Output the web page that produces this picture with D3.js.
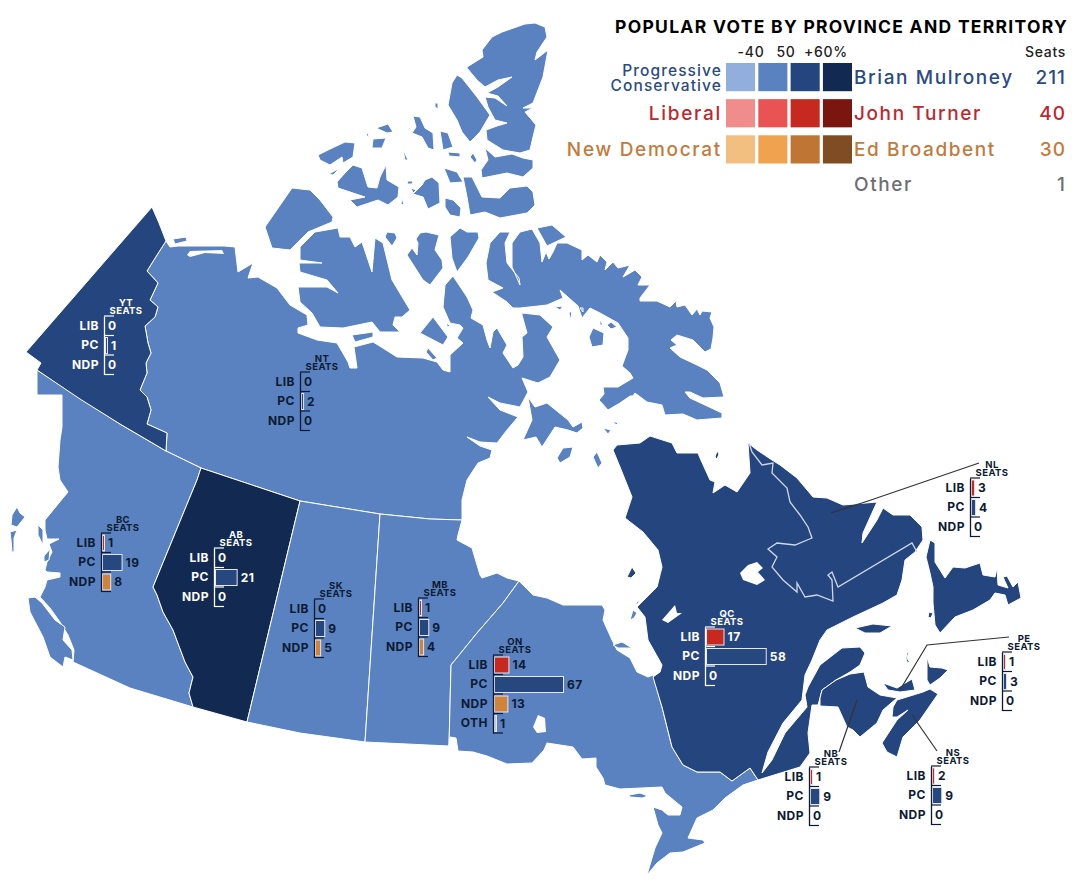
<!DOCTYPE html>
<html>
<head>
<meta charset="utf-8">
<script src="https://cdn.jsdelivr.net/npm/d3@7"></script>
<style>
html, body { margin: 0; padding: 0; background: #fff; }
svg { display: block; font-family: Inter, "Open Sans", sans-serif; }
</style>
</head>
<body>
<svg id="map" width="1080" height="896"></svg>
<script>
// seats
var provinces = ['YT', 'NT', 'BC', 'AB', 'SK', 'MB', 'ON', 'QC', 'NL', 'PE', 'NB', 'NS'];
var libSeats = [0, 0, 1, 0, 0, 1, 14, 17, 3, 1, 1, 2];
var pcSeats = [1, 2, 19, 21, 9, 9, 67, 58, 4, 3, 9, 9];
var ndpSeats = [0, 0, 8, 0, 5, 4, 13, 0, 0, 0, 0, 0];
var othSeats = [null, null, null, null, null, null, 1, null, null, null, null, null];

// vote share band of the winning party, 0..3 = -40, 50, +60 columns of the legend
var shareBand = { YT: 2, NT: 1, BC: 1, AB: 3, SK: 1, MB: 1, ON: 1, QC: 2, NL: 2, PE: 2, NB: 2, NS: 2 };

// legend
var parties = ['Progressive Conservative', 'Liberal', 'New Democrat'];
var leaders = ['Brian Mulroney', 'John Turner', 'Ed Broadbent', 'Other'];
var partySeats = [211, 40, 30, 1];
var bandLabels = ['-40', '50', '+60%'];
var pcShades = ['#92aedd', '#5a82c0', '#25457f', '#122a52'];
var libShades = ['#f18c8c', '#ea5353', '#c5291f', '#7a1510'];
var ndpShades = ['#f3bf80', '#f0a24e', '#bf7534', '#7f4c23'];
var textCols = ['#2a4a85', '#c1272d', '#c47a3a', '#6d6e71'];

// inset positions: left axis x and top y
var insetX = { YT: 104, NT: 300, BC: 101, AB: 214, SK: 314, MB: 418, ON: 493, QC: 705, NL: 970, PE: 1002, NB: 809, NS: 931 };
var insetY = { YT: 316, NT: 372, BC: 533, AB: 548, SK: 599, MB: 598, ON: 655, QC: 627, NL: 478, PE: 652, NB: 767, NS: 766 };
var lightText = ['YT', 'AB', 'QC'];

// outlines
var shapeYT = ['152,207 159,223 166,241 157,255 147,271 158,283 150,300 158,307 155,317 145,326 148,343 151,353 146,363 147,373 140,390 147,397 151,410 147,424 167,433 166,451 120,424 80,399 37,370 41,363 26,352'];
var shapeNT = [
  '166,241 170,247 178,246 200,246 224,246 235,247 238,272 253,263 248,278 258,277 277,288 290,305 307,315 308,325 298,328 298,333 317,340 337,343 348,362 350,368 357,368 354,347 373,342 378,345 397,357 423,358 437,362 443,370 450,372 450,355 463,343 457,338 463,328 460,325 450,323 443,307 445,285 453,276 467,297 473,310 471,318 483,325 487,340 490,348 493,332 497,328 507,345 503,353 513,368 518,365 523,357 522,337 527,333 522,315 522,313 540,315 553,327 547,337 560,360 550,377 538,383 522,378 528,392 520,407 500,403 488,397 500,410 518,417 507,430 497,443 480,442 467,437 480,446 492,450 490,458 478,463 467,480 462,500 462,520 430,519 380,514 300,501 201,468 166,451 167,433 147,424 151,410 147,397 140,390 147,373 146,363 151,353 148,343 145,326 155,317 158,307 150,300 158,283 147,271 157,255',
  '173,239 186,237 187,241 175,244',
  '265,227 292,188 310,190 320,200 333,217 332,222 308,232 290,250 272,248',
  '300,247 315,232 338,228 340,237 350,237 355,247 362,242 368,260 372,272 375,238 383,243 392,280 410,310 402,317 395,317 393,325 400,332 380,332 372,322 343,328 320,327 312,313 300,302 298,287 327,287 338,293 327,280 300,272 299,263 322,263 300,260',
  '352,335 373,332 373,337 355,342',
  '433,317 448,337 443,345 420,333',
  '428,348 437,358 433,360 426,352',
  '447,323 450,326 447,327',
  '420,233 426,232 439,235 435,250 442,260 443,268 430,285 423,280 407,255 412,248 417,255 418,243 416,239',
  '460,228 467,232 478,232 479,238 468,257 457,272 452,258 450,237',
  '387,232 395,233 397,238 392,246 385,237',
  '537,228 552,225 566,237 547,246',
  // Baffin
  '500,232 510,232 505,243 507,263 519,278 520,285 512,267 512,243 520,232 532,229 540,243 542,262 546,252 549,259 553,252 557,243 567,243 582,250 582,260 588,255 597,262 600,255 607,262 605,270 613,262 618,268 630,265 623,277 635,270 642,277 638,285 650,285 640,298 640,301 657,301 670,307 676,301 677,307 685,305 692,315 697,309 700,315 702,311 712,312 710,318 714,327 713,338 711,349 705,352 693,340 677,335 671,340 677,345 670,348 680,357 697,365 707,370 720,383 724,397 703,398 690,392 685,392 690,398 722,413 722,418 697,420 683,414 665,415 662,405 647,402 635,393 633,396 630,396 620,403 608,410 599,400 604,394 603,387 618,387 633,378 630,373 622,366 628,350 628,338 618,323 600,313 590,308 582,318 578,306 560,290 563,298 547,305 520,308 513,308 507,302 492,292 503,288 488,280 486,263 490,243',
  '555,307 563,306 560,310',
  '569,312 572,312 570,321',
  '580,308 583,308 583,312',
  '600,320 603,325 600,325',
  '593,328 604,333 603,345 592,347 589,337',
  '607,325 611,322 617,327 611,329',
  // Southampton, Coats, Mansel, Nottingham
  '528,397 535,407 547,403 568,420 573,427 582,422 583,428 577,433 568,430 555,427 542,447 536,437 523,440 532,420',
  '573,447 570,457 560,463 557,458 563,448',
  '597,452 602,463 598,468 593,457',
  '603,428 611,430 608,434',
  '613,421 618,423 616,425',
  // Queen Elizabeth islands
  '467,67 483,57 482,50 492,37 502,32 525,24 535,23 545,27 547,37 537,52 535,60 548,50 543,77 538,90 533,103 523,108 533,108 525,112 536,125 533,137 530,150 520,153 503,150 487,140 486,130 497,126 507,123 495,120 488,107 485,97 495,98 507,106 498,96 487,93 498,87 512,77 498,80 485,87 477,80 467,68',
  '457,75 462,78 477,97 490,115 480,132 470,142 462,132 457,120 448,105 452,83',
  '435,103 438,103 438,109 435,107',
  '413,116 420,117 425,128 433,133 434,150 428,148 422,137 412,133 416,127',
  '440,131 448,133 453,147 443,150',
  '448,152 460,153 460,157 449,156',
  '470,157 473,153 477,160 475,163',
  '403,149 408,160 405,160',
  '318,155 328,150 345,142 355,143 353,157 343,163 342,157 330,165 320,160',
  '376,128 388,124 393,132 387,133',
  '373,139 386,138 382,148 372,148',
  '366,134 368,133 369,139',
  '329,174 340,168 333,175',
  '337,182 345,173 353,165 362,168 368,187 377,188 380,177 386,165 387,180 399,187 398,197 388,205 378,200 357,207 350,200 365,197 350,192 338,188',
  '402,198 404,205 401,204',
  '432,177 439,183 440,203 428,209 423,197 413,194 422,185 425,180',
  '444,168 457,172 463,182 450,183',
  '463,177 472,177 482,197 500,198 510,188 527,186 533,192 535,205 527,213 500,218 485,212 470,215 467,197',
  '485,148 495,157 512,154 523,158 533,160 533,168 523,177 507,173 482,178 481,170 488,160',
  '445,198 453,200 461,208 460,217 450,215 445,207',
  '408,181 413,181 412,184 407,184',
  '411,188 416,190 413,193'
];
var holesNT = ['187,255 190,251 222,250 224,254 205,253 190,257'];
var shapeBC = [
  '37,370 120,424 166,451 201,468 197,480 153,587 157,595 163,612 173,630 185,662 193,677 189,693 193,707 130,688 73,662 74,650 68,635 60,622 50,608 40,597 45,587 47,580 60,577 60,573 47,572 45,570 47,562 52,552 49,544 59,539 47,539 45,530 45,520 63,498 68,492 60,480 58,467 60,440 62,427 62,395 37,395',
  '28,598 35,597 42,603 55,620 65,627 63,640 72,650 73,660 65,657 63,667 50,657 43,637 30,612',
  '17,507 20,513 25,517 17,527 11,525 12,515',
  '10,532 17,530 14,538 14,552 12,552 11,540',
  '38,525 43,530 43,545 38,535',
  '44,556 50,549 49,560 44,562'
];
var shapeAB = ['201,468 300,501 247,722 193,707 189,693 193,677 185,662 173,630 163,612 157,595 153,587 197,480'];
var shapeSK = ['300,501 380,514 365,742 300,733 247,722'];
var shapeMB = ['380,514 430,519 462,520 458,535 457,540 472,548 480,575 482,578 497,573 507,578 519,581 503,603 477,633 451,665 449,746 365,742'];
var shapeON = [
  '519,581 533,595 547,598 563,605 602,605 605,610 603,620 612,640 617,650 630,658 637,672 648,677 653,675 662,707 672,747 683,765 697,772 720,772 732,781 750,768 758,780 743,785 725,798 713,810 697,818 688,838 703,840 705,843 683,852 670,853 657,863 647,875 652,858 655,848 662,833 658,825 653,807 662,810 668,815 680,815 682,807 665,793 662,787 620,789 605,785 603,778 596,767 596,758 582,759 573,747 547,743 544,750 532,763 507,764 487,756 473,752 458,751 456,738 450,737 449,746 451,665 477,633 503,603',
  '613,645 622,642 632,648 618,648',
  '630,620 633,610 637,613 634,618',
  '634,605 640,599 638,603',
  '629,795 640,793 648,796 642,798 630,797'
];
var holesON = ['533,727 538,715 545,718 546,732 537,733'];
var shapeQC = [
  '653,677 660,672 662,665 648,640 645,617 637,607 657,587 662,567 658,550 643,532 625,518 632,497 620,467 613,450 617,445 640,443 650,436 672,443 677,453 698,453 700,458 710,480 715,482 713,493 725,485 737,492 750,473 748,443 757,450 772,460 780,465 797,478 813,497 827,498 843,505 877,502 863,533 862,543 877,520 883,508 893,515 910,515 922,527 923,540 915,552 905,560 902,580 897,595 883,603 853,617 827,630 820,640 812,660 805,675 802,700 783,723 768,752 762,773 772,760 785,733 807,707 805,695 808,687 820,665 842,648 860,647 865,653 860,665 850,672 836,680 822,690 820,698 818,705 812,705 808,733 810,753 800,767 758,780 750,768 732,781 720,772 697,772 683,765 672,747 662,707',
  '627,577 632,567 636,573 631,578',
  '634,605 640,599 638,603',
  '715,457 717,451 719,454 717,459',
  '855,628 873,624 892,626 880,633 865,633'
];
var holesQC = [
  '740,573 748,565 757,562 763,568 758,572 765,580 757,585 743,580',
  '662,620 675,605 677,613 682,613 668,623'
];
var shapeNL = [
  '930,540 935,543 935,562 945,578 953,567 965,568 980,563 983,575 995,577 997,568 998,585 1008,588 1003,577 1007,576 1013,587 1018,582 1021,598 1008,605 1005,595 995,593 990,600 973,610 955,617 940,633 935,625 933,603 933,587 930,573 926,557',
  '929,612 933,613 931,618 928,617'
];
var shapeNB = ['820,698 822,690 836,680 850,674 864,672 868,687 880,695 897,698 883,710 877,723 860,737 853,730 847,727 838,707 820,706'];
var shapeNS = [
  '893,707 897,700 923,692 930,689 938,694 920,720 903,737 897,757 887,752 882,743 897,720 908,710 897,717 892,717',
  '927,657 930,667 942,668 948,670 940,678 930,685 927,680',
  '907,653 909,651 907,658 910,663 907,662 906,658'
];
var shapePE = ['883,683 897,688 912,679 915,690 900,692 888,690'];
var shapeList = { YT: shapeYT, NT: shapeNT, BC: shapeBC, AB: shapeAB, SK: shapeSK, MB: shapeMB, ON: shapeON, QC: shapeQC, NL: shapeNL, NB: shapeNB, NS: shapeNS, PE: shapePE };
var drawOrder = ['NT', 'BC', 'YT', 'AB', 'SK', 'MB', 'ON', 'QC', 'NL', 'NB', 'NS', 'PE'];

var labradorBorder = '749,443 752,452 762,465 773,463 772,473 787,488 790,502 800,515 808,527 812,538 795,545 777,543 768,549 777,557 772,567 783,580 797,592 797,583 805,597 817,595 833,601 832,580 828,575 832,572 838,587 912,543 917,552';
var leaderLines = ['831,513 868,501 979,463', '900,690 927,645 1009,637', '857,700 839,752', '912,715 937,751'];

var svg = d3.select('#map');
var line = d3.line();

var parse_ring = function(str) {
    return str.split(' ').map(function(p) { return p.split(',').map(Number); });
};

// map
var land = svg.append('g').attr('id', 'land');
drawOrder.forEach(function(code) {
    land.append('g').attr('id', code)
        .selectAll('path').data(shapeList[code]).join('path')
        .attr('d', function(d) { return line(parse_ring(d)) + 'Z'; })
        .attr('fill', pcShades[shareBand[code]])
        .attr('stroke', '#fff')
        .attr('stroke-width', 1)
        .attr('stroke-linejoin', 'round');
});

land.append('g').selectAll('path').data(holesON.concat(holesQC, holesNT)).join('path')
    .attr('d', function(d) { return line(parse_ring(d)) + 'Z'; })
    .attr('fill', '#fff');

land.append('path')
    .attr('d', line(parse_ring(labradorBorder)))
    .attr('fill', 'none')
    .attr('stroke', '#cfd8e8')
    .attr('stroke-width', 1.3);

svg.append('g').selectAll('path').data(leaderLines).join('path')
    .attr('d', function(d) { return line(parse_ring(d)); })
    .attr('fill', 'none')
    .attr('stroke', '#333')
    .attr('stroke-width', 1.2);

// seat insets
var seatWidth = d3.scaleLinear().domain([0, 67]).range([0, 69]);
var rowColors = { LIB: '#c8291f', PC: '#27477f', NDP: '#d0833a', OTH: '#c9c9c9' };

provinces.forEach(function(code, i) {
    var rows = [
        { key: 'LIB', seats: libSeats[i] },
        { key: 'PC', seats: pcSeats[i] },
        { key: 'NDP', seats: ndpSeats[i] }
    ];
    if (othSeats[i] !== null) rows.push({ key: 'OTH', seats: othSeats[i] });

    var ink = lightText.indexOf(code) >= 0 ? '#fff' : '#0d1a33';
    var y = d3.scaleBand().domain(rows.map(function(r) { return r.key; }))
        .range([0, rows.length * 19.5]);

    var g = svg.append('g').attr('class', 'inset')
        .attr('transform', 'translate(' + insetX[code] + ',' + insetY[code] + ')');

    g.selectAll('rect').data(rows.filter(function(r) { return r.seats > 0; })).join('rect')
        .attr('x', 1.5)
        .attr('y', function(r) { return y(r.key) + 2; })
        .attr('width', function(r) { return Math.max(seatWidth(r.seats), 2); })
        .attr('height', y.bandwidth() - 3.5)
        .attr('fill', function(r) { return rowColors[r.key]; })
        .attr('stroke', '#e6e6ee')
        .attr('stroke-width', 1);

    var axis = d3.axisLeft(y).tickSize(0).tickPadding(5);
    var ax = g.append('g').call(axis);
    ax.select('.domain').attr('stroke', ink).attr('stroke-width', 1.3);
    ax.selectAll('text')
        .attr('fill', ink)
        .attr('font-family', 'Inter, sans-serif')
        .attr('font-size', 12)
        .attr('font-weight', 700)
        .attr('letter-spacing', 0.5);

    // little ticks at the band edges
    var edges = rows.map(function(r) { return y(r.key); }).concat(y.range()[1]);
    g.selectAll('line.edge').data(edges).join('line')
        .attr('class', 'edge')
        .attr('x1', 0).attr('x2', 10)
        .attr('y1', function(d) { return d; })
        .attr('y2', function(d) { return d; })
        .attr('stroke', ink)
        .attr('stroke-width', 1.2);

    g.selectAll('text.val').data(rows).join('text')
        .attr('class', 'val')
        .attr('x', function(r) { return (r.seats > 0 ? Math.max(seatWidth(r.seats), 2) + 5 : 4); })
        .attr('y', function(r) { return y(r.key) + y.bandwidth() / 2; })
        .attr('dy', '0.36em')
        .attr('fill', ink)
        .attr('font-size', 12)
        .attr('font-weight', 700)
        .attr('letter-spacing', 0.5)
        .text(function(r) { return r.seats; });

    g.selectAll('text.head').data([code, 'SEATS']).join('text')
        .attr('class', 'head')
        .attr('x', 22)
        .attr('y', function(d, j) { return j === 0 ? -13 : -5; })
        .attr('dy', '0.36em')
        .attr('text-anchor', 'middle')
        .attr('fill', ink)
        .attr('font-size', 9.5)
        .attr('font-weight', 700)
        .attr('letter-spacing', 0.4)
        .text(function(d) { return d; });
});

// legend
var legend = svg.append('g').attr('id', 'legend');
var shadeRows = [pcShades, libShades, ndpShades];
var colX = d3.scaleBand().domain(d3.range(4)).range([726, 852]).paddingInner(0.1);
var rowY = d3.scaleBand().domain(d3.range(3)).range([63, 163.5]).paddingInner(0.22);

legend.append('text').attr('x', 1068).attr('y', 33).attr('text-anchor', 'end')
    .attr('font-size', 17.5).attr('font-weight', 700).attr('fill', '#000')
    .attr('letter-spacing', 1.28)
    .text('POPULAR VOTE BY PROVINCE AND TERRITORY');

shadeRows.forEach(function(shades, r) {
    legend.append('g').selectAll('rect').data(shades).join('rect')
        .attr('x', function(d, c) { return colX(c); })
        .attr('y', rowY(r))
        .attr('width', colX.bandwidth())
        .attr('height', rowY.bandwidth())
        .attr('fill', function(d) { return d; });
});

legend.selectAll('text.band').data(bandLabels).join('text')
    .attr('class', 'band')
    .attr('x', function(d, i) { return [751, 786, 826][i]; })
    .attr('y', 57)
    .attr('text-anchor', 'middle')
    .attr('font-size', 14)
    .attr('font-weight', 500)
    .attr('letter-spacing', 0.7)
    .attr('fill', '#222')
    .text(function(d) { return d; });

legend.append('text').attr('x', 1066).attr('y', 57).attr('text-anchor', 'end')
    .attr('font-size', 14).attr('font-weight', 500).attr('letter-spacing', 0.7).attr('fill', '#222').text('Seats');

var words = parties[0].split(' ');
legend.selectAll('text.pc').data(words).join('text')
    .attr('class', 'pc')
    .attr('x', 722)
    .attr('y', function(d, i) { return 76 + i * 15; })
    .attr('text-anchor', 'end')
    .attr('font-size', 15.5)
    .attr('font-weight', 500)
    .attr('letter-spacing', 1.1)
    .attr('fill', textCols[0])
    .text(function(d) { return d; });

legend.selectAll('text.party').data(parties.slice(1)).join('text')
    .attr('class', 'party')
    .attr('x', 722)
    .attr('y', function(d, i) { return 120 + i * 36; })
    .attr('text-anchor', 'end')
    .attr('font-size', 19)
    .attr('font-weight', 500)
    .attr('letter-spacing', 1.7)
    .attr('fill', function(d, i) { return textCols[i + 1]; })
    .text(function(d) { return d; });

legend.selectAll('text.leader').data(leaders).join('text')
    .attr('class', 'leader')
    .attr('x', 854)
    .attr('y', function(d, i) { return i === 3 ? 191 : 84 + i * 36; })
    .attr('font-size', 19)
    .attr('font-weight', 500)
    .attr('letter-spacing', 1.6)
    .attr('fill', function(d, i) { return textCols[i]; })
    .text(function(d) { return d; });

legend.selectAll('text.total').data(partySeats).join('text')
    .attr('class', 'total')
    .attr('x', 1066)
    .attr('y', function(d, i) { return i === 3 ? 191 : 84 + i * 36; })
    .attr('text-anchor', 'end')
    .attr('font-size', 19)
    .attr('font-weight', 500)
    .attr('letter-spacing', 1)
    .attr('fill', function(d, i) { return textCols[i]; })
    .text(function(d) { return d; });
</script>
</body>
</html>
